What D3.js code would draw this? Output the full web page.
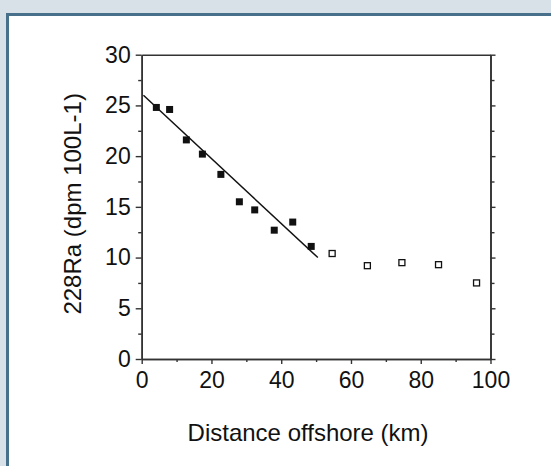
<!DOCTYPE html>
<html>
<head>
<meta charset="utf-8">
<script src="https://cdn.jsdelivr.net/npm/d3@7"></script>
<style>
  html, body { margin: 0; padding: 0; background: #d8e1e7; }
  svg { display: block; }
  text { font-family: "Liberation Sans", Arial, Helvetica, sans-serif; fill: #111; }
</style>
</head>
<body>
<svg id="chart" width="551" height="466"></svg>
<script>
// ---- data ----
const nearDistance = [4.2, 8.0, 12.8, 17.4, 22.7, 28.0, 32.4, 38.0, 43.3, 48.6];
const nearRa       = [24.8, 24.6, 21.6, 20.2, 18.2, 15.5, 14.7, 12.7, 13.5, 11.1];
const farDistance  = [54.6, 64.7, 74.6, 85.1, 96.0];
const farRa        = [10.4, 9.2, 9.5, 9.3, 7.5];
const fitDistance  = [0.5, 50.5];
const fitRa        = [26.0, 10.0];
const xTicks = [0, 20, 40, 60, 80, 100];
const xMinorTicks = [10, 30, 50, 70, 90];
const yTicks = [0, 5, 10, 15, 20, 25, 30];
const yMinorTicks = [2.5, 7.5, 12.5, 17.5, 22.5, 27.5];
const xTitle = "Distance offshore (km)";
const yTitle = "228Ra (dpm 100L-1)";

(function () {
const svg = d3.select("#chart");

// frame
svg.append("rect").attr("x", 0).attr("y", 0).attr("width", 551).attr("height", 466).attr("fill", "#d8e1e7");
svg.append("rect").attr("x", 7.5).attr("y", 14.5).attr("width", 700).attr("height", 700)
  .attr("fill", "#ffffff").attr("stroke", "#48708a").attr("stroke-width", 3);

const pLeft = 141.7, pRight = 490.5, pTop = 54.7, pBottom = 359;
const x = d3.scaleLinear().domain([0, 100]).range([pLeft, pRight]);
const y = d3.scaleLinear().domain([0, 30]).range([pBottom, pTop]);

const axisColor = "#333";
function styleAxis(g) {
  g.selectAll("path.domain").attr("stroke", axisColor).attr("stroke-width", 1.6);
  g.selectAll(".tick line").attr("stroke", axisColor).attr("stroke-width", 1.4);
  g.selectAll(".tick text").style("font-size", "23px").attr("fill", "#111");
}

// left axis
const gl = svg.append("g").attr("transform", `translate(${pLeft},0)`)
  .call(d3.axisLeft(y).tickValues(yTicks).tickFormat(d3.format("d")).tickSize(6).tickSizeOuter(0).tickPadding(5));
styleAxis(gl);
const glm = svg.append("g").attr("transform", `translate(${pLeft},0)`)
  .call(d3.axisLeft(y).tickValues(yMinorTicks).tickFormat("").tickSize(3.5).tickSizeOuter(0));
styleAxis(glm);

// right axis
const gr = svg.append("g").attr("transform", `translate(${pRight},0)`)
  .call(d3.axisRight(y).tickValues(yTicks).tickFormat("").tickSize(5).tickSizeOuter(0));
styleAxis(gr);
const grm = svg.append("g").attr("transform", `translate(${pRight},0)`)
  .call(d3.axisRight(y).tickValues(yMinorTicks).tickFormat("").tickSize(4).tickSizeOuter(0));
styleAxis(grm);

// bottom axis
const gb = svg.append("g").attr("transform", `translate(0,${pBottom})`)
  .call(d3.axisBottom(x).tickValues(xTicks).tickFormat(d3.format("d")).tickSize(5).tickSizeOuter(0).tickPadding(8));
styleAxis(gb);
const gbm = svg.append("g").attr("transform", `translate(0,${pBottom})`)
  .call(d3.axisBottom(x).tickValues(xMinorTicks).tickFormat("").tickSize(3).tickSizeOuter(0));
styleAxis(gbm);

// top axis (line only)
const gt = svg.append("g").attr("transform", `translate(0,${pTop})`)
  .call(d3.axisTop(x).tickValues([]).tickSizeOuter(0));
styleAxis(gt);

// regression line
const lineData = fitDistance.map((d, i) => [d, fitRa[i]]);
svg.append("path").datum(lineData)
  .attr("d", d3.line().x(d => x(d[0])).y(d => y(d[1])))
  .attr("fill", "none").attr("stroke", "#111").attr("stroke-width", 1.5);

// filled squares
const near = nearDistance.map((d, i) => ({ d, r: nearRa[i] }));
const fs = 7;
svg.append("g").selectAll("rect").data(near).join("rect")
  .attr("x", p => x(p.d) - fs / 2).attr("y", p => y(p.r) - fs / 2)
  .attr("width", fs).attr("height", fs).attr("fill", "#111");

// open squares
const far = farDistance.map((d, i) => ({ d, r: farRa[i] }));
const os = 6;
svg.append("g").selectAll("rect").data(far).join("rect")
  .attr("x", p => x(p.d) - os / 2).attr("y", p => y(p.r) - os / 2)
  .attr("width", os).attr("height", os).attr("fill", "#fff")
  .attr("stroke", "#111").attr("stroke-width", 1.3);

// titles
svg.append("text").attr("x", (pLeft + pRight) / 2 - 8).attr("y", 441)
  .attr("text-anchor", "middle").style("font-size", "24px").text(xTitle);
svg.append("text").attr("transform", `translate(81,${(pTop + pBottom) / 2 - 3}) rotate(-90)`)
  .attr("text-anchor", "middle").style("font-size", "24px").text(yTitle);
})();
</script>
</body>
</html>
